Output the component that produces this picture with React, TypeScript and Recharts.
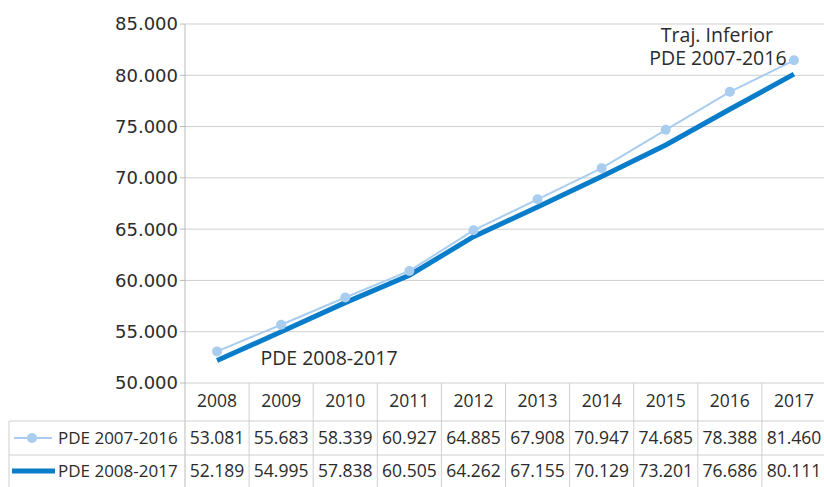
import { CartesianGrid, LabelList, Line, LineChart, XAxis, YAxis } from "recharts"

const years = ["2008", "2009", "2010", "2011", "2012", "2013", "2014", "2015", "2016", "2017"]
const pde2007 = [53081, 55683, 58339, 60927, 64885, 67908, 70947, 74685, 78388, 81460]
const pde2008 = [52189, 54995, 57838, 60505, 64262, 67155, 70129, 73201, 76686, 80111]
const yTicks = [50000, 55000, 60000, 65000, 70000, 75000, 80000, 85000]

const series1Name = "PDE 2007-2016"
const series2Name = "PDE 2008-2017"

const data = years.map((year, i) => ({ year, pde2007: pde2007[i], pde2008: pde2008[i] }))

const LIGHT = "#a9cdef"
const DARK = "#0a7dca"
const GRID = "#cfcfcf"
const TEXT = "#2b2b2b"
const FONT = "'Open Sans', sans-serif"

const W = 826
const H = 487
const AXIS_W = 185
const PLOT_BOTTOM = 383
const BAND = (W - AXIS_W) / years.length

// thousands with a dot, like the source
const fmt = (v: number) => `${Math.floor(v / 1000)}.${String(v % 1000).padStart(3, "0")}`

function TableTick(props: any) {
  const { x, index, payload } = props
  const half = BAND / 2
  const cell = { fontFamily: FONT, fontSize: 17.5, fill: TEXT, textAnchor: "middle" as const }
  return (
    <g>
      {index === 0 && (
        <g>
          <line x1={AXIS_W} x2={AXIS_W} y1={PLOT_BOTTOM} y2={H} stroke="#bbb" />
          <line x1={9} x2={W} y1={421} y2={421} stroke={GRID} />
          <line x1={9} x2={W} y1={455} y2={455} stroke={GRID} />
          <line x1={9} x2={9} y1={421} y2={H} stroke={GRID} />
          <line x1={14} x2={52} y1={438} y2={438} stroke={LIGHT} strokeWidth={2} />
          <circle cx={32} cy={438} r={5} fill={LIGHT} />
          <text x={58} y={444} fontFamily={FONT} fontSize={17} fill={TEXT}>{series1Name}</text>
          <line x1={12} x2={55} y1={471} y2={471} stroke={DARK} strokeWidth={5} />
          <text x={58} y={477} fontFamily={FONT} fontSize={17} fill={TEXT}>{series2Name}</text>
        </g>
      )}
      <line x1={x + half} x2={x + half} y1={PLOT_BOTTOM} y2={H} stroke={GRID} />
      <text x={x} y={407} {...cell}>{payload.value}</text>
      <text x={x} y={444} {...cell}>{fmt(pde2007[index])}</text>
      <text x={x} y={477} {...cell}>{fmt(pde2008[index])}</text>
    </g>
  )
}

const annoStyle = { fontFamily: FONT, fontSize: 19.5, fill: TEXT, textAnchor: "middle" as const }

function EndLabel(props: any) {
  const { x, y, index } = props
  if (index !== years.length - 1) return null
  return (
    <g>
      <text x={x - 77} y={y - 18} {...annoStyle}>Traj. Inferior</text>
      <text x={x - 76} y={y + 5} {...annoStyle}>{series1Name}</text>
    </g>
  )
}

function StartLabel(props: any) {
  const { x, y, index } = props
  if (index !== 0) return null
  return (
    <text x={x + 112} y={y + 4} {...annoStyle}>{series2Name}</text>
  )
}

export default function App() {
  return (
    <div style={{ position: "absolute", left: 0, top: 0, width: 824, height: H, overflow: "hidden", background: "#fff" }}>
      <LineChart width={W} height={H} data={data} margin={{ top: 24, right: 0, bottom: 0, left: 0 }}>
        <CartesianGrid horizontal vertical={false} stroke={GRID} strokeWidth={1} />
        <XAxis
          dataKey="year"
          height={H - PLOT_BOTTOM}
          axisLine={false}
          tickLine={false}
          interval={0}
          padding={{ left: BAND / 2, right: BAND / 2 }}
          tick={<TableTick />}
        />
        <YAxis
          width={AXIS_W}
          domain={[50000, 85000]}
          ticks={yTicks}
          tickFormatter={fmt}
          axisLine={{ stroke: "#bbb" }}
          tickLine={{ stroke: "#bbb" }}
          tickSize={5}
          tick={{ fontFamily: "'DejaVu Sans', sans-serif", fontSize: 18, fill: TEXT }}
        />
        <Line
          dataKey="pde2008"
          stroke={DARK}
          strokeWidth={5}
          dot={false}
          isAnimationActive={false}
        >
          <LabelList dataKey="pde2008" content={<StartLabel />} />
        </Line>
        <Line
          dataKey="pde2007"
          stroke={LIGHT}
          strokeWidth={2}
          dot={{ r: 5, fill: LIGHT, stroke: LIGHT, strokeWidth: 0 }}
          isAnimationActive={false}
        >
          <LabelList dataKey="pde2007" content={<EndLabel />} />
        </Line>
      </LineChart>
    </div>
  )
}
